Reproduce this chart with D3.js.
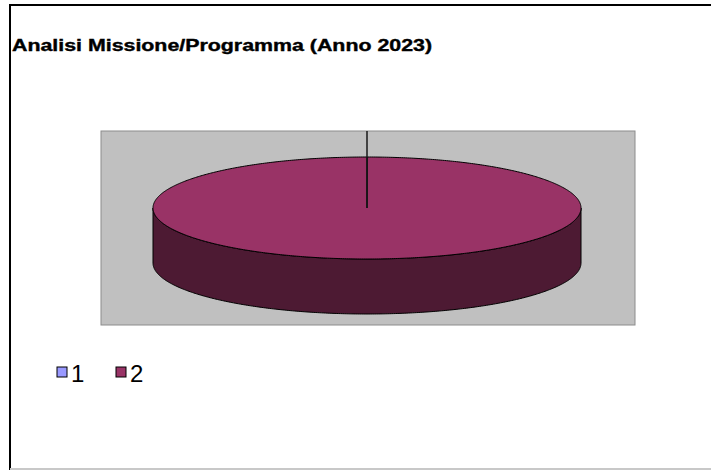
<!DOCTYPE html>
<html>
<head>
<meta charset="utf-8">
<script src="https://cdn.jsdelivr.net/npm/d3@7"></script>
<style>
  body { margin: 0; background: #fff; }
  svg { display: block; }
</style>
</head>
<body>
<svg id="chart" width="711" height="470"></svg>
<script>
var categories = ["1", "2"];
var values = [0.02, 99.98];
var topColors = ["#9999ff", "#993366"];
var sideColors = ["#4d4d80", "#4d1a33"];
var title = "Analisi Missione/Programma (Anno 2023)";

var svg = d3.select("#chart"),
    width = +svg.attr("width"),
    height = +svg.attr("height");

// outer frame
svg.append("rect")
    .attr("x", 10).attr("y", 5)
    .attr("width", width + 20).attr("height", height - 6)
    .attr("fill", "#fff")
    .attr("stroke", "#000")
    .attr("stroke-width", 2);
svg.append("line")
    .attr("x1", 10).attr("x2", width)
    .attr("y1", height - 1).attr("y2", height - 1)
    .attr("stroke", "#c8c8c8").attr("stroke-width", 2);

svg.append("text")
    .attr("x", 12).attr("y", 51)
    .attr("font-family", "Liberation Sans, Arial, sans-serif")
    .attr("font-weight", "bold")
    .attr("font-size", 17)
    .attr("stroke", "#000")
    .attr("stroke-width", 0.4)
    .attr("textLength", 420)
    .attr("lengthAdjust", "spacingAndGlyphs")
    .text(title);

// plot area
var plot = {x0: 101, y0: 131, x1: 635, y1: 325};
svg.append("rect")
    .attr("x", plot.x0).attr("y", plot.y0)
    .attr("width", plot.x1 - plot.x0).attr("height", plot.y1 - plot.y0)
    .attr("fill", "#c0c0c0")
    .attr("stroke", "#8c8c8c");

var cx = 367, cy = 208, rx = 214, ry = 51, depth = 55;

var pie = d3.pie().sort(null).value(function(d) { return d; });
var arcs = pie(values);

function pt(a, dy) {
    return [cx + rx * Math.sin(a), cy - ry * Math.cos(a) + (dy || 0)];
}

function arcPoints(a0, a1, dy) {
    var n = Math.max(2, Math.ceil((a1 - a0) / 0.01));
    var s = d3.scaleLinear().domain([0, n]).range([a0, a1]);
    return d3.range(n + 1).map(function(i) { return pt(s(i), dy); });
}

var line = d3.line();

// side walls (front half only: angles between PI/2 and 3PI/2)
var sides = svg.append("g");
arcs.forEach(function(d, i) {
    var a0 = Math.max(d.startAngle, Math.PI / 2),
        a1 = Math.min(d.endAngle, 3 * Math.PI / 2);
    if (a1 <= a0) return;
    var top = arcPoints(a0, a1, 0);
    var bottom = arcPoints(a0, a1, depth).reverse();
    sides.append("path")
        .attr("d", line(top.concat(bottom)) + "Z")
        .attr("fill", sideColors[i])
        .attr("stroke", "#000")
        .attr("stroke-width", 1);
});

// top faces
var tops = svg.append("g");
arcs.forEach(function(d, i) {
    var pts = [[cx, cy]].concat(arcPoints(d.startAngle, d.endAngle, 0));
    tops.append("path")
        .attr("d", line(pts) + "Z")
        .attr("fill", topColors[i])
        .attr("stroke", "#000")
        .attr("stroke-width", 1);
});

// small slice edge running up to the plot area top
var small = arcs[0];
svg.append("line")
    .attr("x1", cx).attr("y1", cy)
    .attr("x2", cx + (cy - plot.y0) * Math.tan(small.startAngle)).attr("y2", plot.y0)
    .attr("stroke", "#1a1a1a")
    .attr("stroke-width", 1.5);

// legend
var legend = svg.append("g").attr("transform", "translate(57,367)");
var item = legend.selectAll("g")
    .data(categories)
    .enter().append("g")
    .attr("transform", function(d, i) { return "translate(" + (i * 59) + ",0)"; });
item.append("rect")
    .attr("width", 10).attr("height", 10)
    .attr("fill", function(d, i) { return topColors[i]; })
    .attr("stroke", "#000");
item.append("text")
    .attr("x", 14).attr("y", 15)
    .attr("font-family", "Liberation Sans, Arial, sans-serif")
    .attr("font-size", 24)
    .attr("font-weight", 300)
    .text(function(d) { return d; });
</script>
</body>
</html>
